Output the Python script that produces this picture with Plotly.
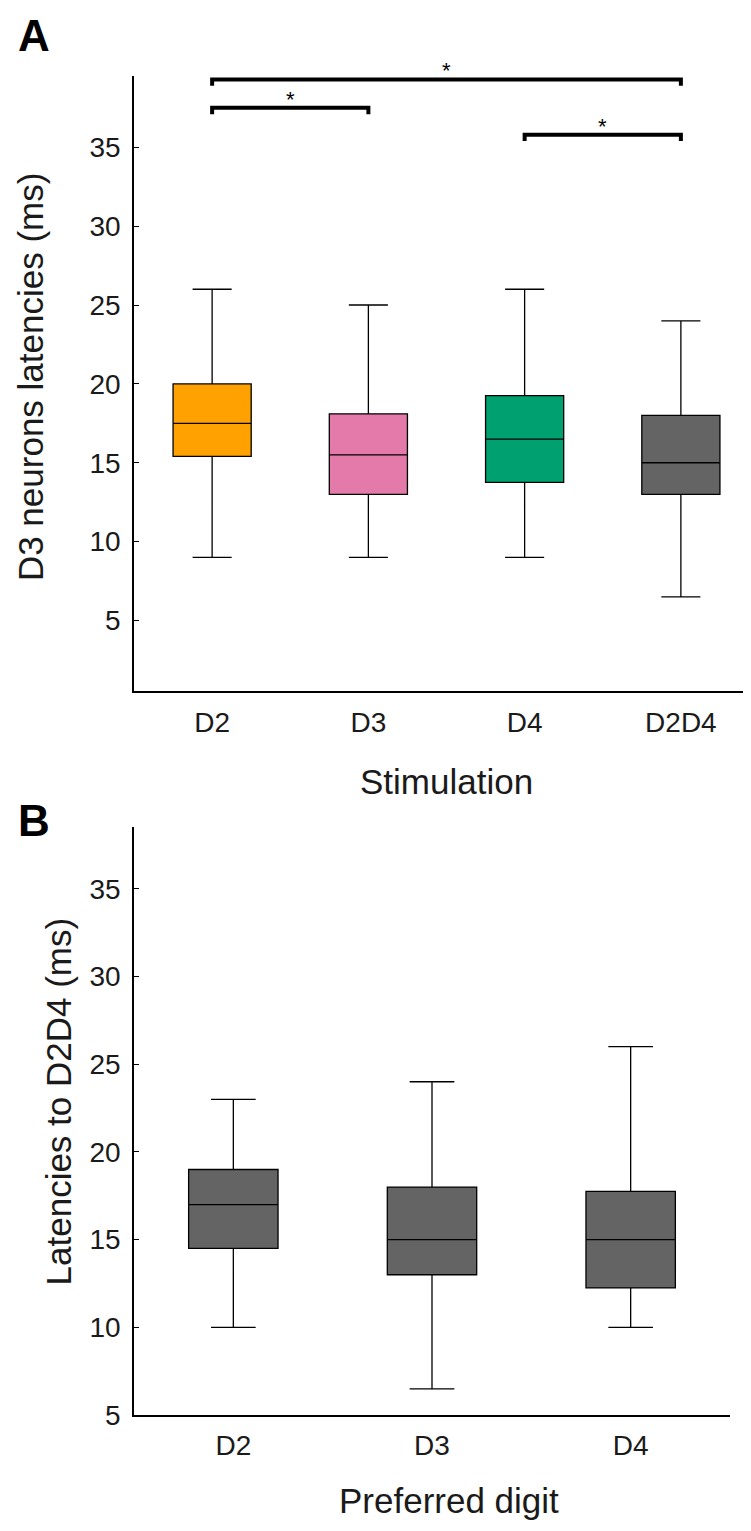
import plotly.graph_objects as go

# ---- Panel A data: D3 neuron latencies by stimulation ----
stim_labels = ["D2", "D3", "D4", "D2D4"]
stim_lower = [9, 9, 9, 6.5]
stim_q1 = [15.4, 13, 13.75, 13]
stim_median = [17.5, 15.5, 16.5, 15]
stim_q3 = [20, 18.1, 19.25, 18]
stim_upper = [26, 25, 26, 24]
stim_colors = ["#FFA101", "#E47AAA", "#00A070", "#646464"]

sig_pairs = [("D2", "D3"), ("D2", "D2D4"), ("D4", "D2D4")]
sig_heights = [37.5, 39.3, 35.8]
sig_marks = ["*", "*", "*"]

# ---- Panel B data: latencies to D2D4 by preferred digit ----
pref_labels = ["D2", "D3", "D4"]
pref_lower = [10, 6.5, 10]
pref_q1 = [14.5, 13, 12.25]
pref_median = [17, 15, 15]
pref_q3 = [19, 18, 17.75]
pref_upper = [23, 24, 26]
pref_color = "#646464"

yticks_a = [5, 10, 15, 20, 25, 30, 35]
yticks_b = [5, 10, 15, 20, 25, 30, 35]

FONT = "Liberation Sans, Arial, Helvetica, sans-serif"
W, H = 751, 1531

fig = go.Figure()

for i, lab in enumerate(stim_labels):
    fig.add_trace(go.Box(
        x=[i + 1], q1=[stim_q1[i]], median=[stim_median[i]], q3=[stim_q3[i]],
        lowerfence=[stim_lower[i]], upperfence=[stim_upper[i]],
        fillcolor=stim_colors[i], line=dict(color="black", width=1.3),
        width=0.5, whiskerwidth=0.5, boxpoints=False, name=lab,
        showlegend=False, hoverinfo="skip", xaxis="x", yaxis="y"))

pos = {lab: i + 1 for i, lab in enumerate(stim_labels)}
drop = 0.4
for (a, b), h in zip(sig_pairs, sig_heights):
    xa, xb = pos[a], pos[b]
    fig.add_trace(go.Scatter(
        x=[xa, xa, xb, xb], y=[h - drop, h, h, h - drop], mode="lines",
        line=dict(color="black", width=4), showlegend=False, hoverinfo="skip",
        cliponaxis=False, xaxis="x", yaxis="y"))

for i, lab in enumerate(pref_labels):
    fig.add_trace(go.Box(
        x=[i + 1], q1=[pref_q1[i]], median=[pref_median[i]], q3=[pref_q3[i]],
        lowerfence=[pref_lower[i]], upperfence=[pref_upper[i]],
        fillcolor=pref_color, line=dict(color="black", width=1.3),
        width=0.45, whiskerwidth=0.5, boxpoints=False, name=lab,
        showlegend=False, hoverinfo="skip", xaxis="x2", yaxis="y2"))

tickfont = dict(family=FONT, size=28, color="#1a1a1a")

def xax(domain, rng, vals, text, anchor):
    return dict(domain=domain, range=rng, tickvals=vals, ticktext=text,
                showline=True, linecolor="black", linewidth=1.5, ticks="",
                showgrid=False, zeroline=False, tickfont=tickfont,
                ticklabelstandoff=5, anchor=anchor, fixedrange=True)

def yax(domain, rng, vals, anchor):
    return dict(domain=domain, range=rng, tickvals=vals,
                showline=True, linecolor="black", linewidth=1.5,
                ticks="inside", ticklen=5, tickwidth=1, tickcolor="black",
                showgrid=False, zeroline=False, tickfont=tickfont,
                ticklabelstandoff=6, anchor=anchor, fixedrange=True)

annotations = []
for (a, b), h, m in zip(sig_pairs, sig_heights, sig_marks):
    annotations.append(dict(x=(pos[a] + pos[b]) / 2, y=h, xref="x", yref="y",
                            text=m, showarrow=False, yanchor="bottom", yshift=-6,
                            font=dict(family=FONT, size=22, color="black")))

def paper(px, py):
    return px / W, 1 - py / H

title_font = dict(family=FONT, size=35, color="#1a1a1a")
for txt, (px, py), ang in [
    ("D3 neurons latencies (ms)", (22, 373), -90),
    ("Latencies to D2D4 (ms)", (50, 1105), -90),
    ("Stimulation", (438, 782), 0),
    ("Preferred digit", (441, 1508), 0),
]:
    x, y = paper(px, py)
    annotations.append(dict(x=x, y=y, xref="paper", yref="paper", text=txt,
                            textangle=ang, showarrow=False, xanchor="center",
                            yanchor="middle", font=title_font))

for txt, (px, py) in [("A", (26, 28)), ("B", (26, 821))]:
    x, y = paper(px, py)
    annotations.append(dict(x=x, y=y, xref="paper", yref="paper",
                            text="<b>%s</b>" % txt, showarrow=False,
                            xanchor="center", yanchor="middle",
                            font=dict(family=FONT, size=44, color="black")))

left = 126 / W
fig.update_layout(
    width=W, height=H, margin=dict(l=0, r=0, t=0, b=0),
    paper_bgcolor="white", plot_bgcolor="white", boxmode="overlay",
    xaxis=xax([left, 1.0], [0.5, 4.5], list(range(1, len(stim_labels) + 1)), stim_labels, "y"),
    yaxis=yax([1 - 690.7 / H, 1 - 69 / H], [0.5, 39.5], yticks_a, "x"),
    xaxis2=xax([left, 722 / W], [0.5, 3.5], list(range(1, len(pref_labels) + 1)), pref_labels, "y2"),
    yaxis2=yax([1 - 1422 / H, 1 - 828 / H], [5, 38.5], yticks_b, "x2"),
    annotations=annotations,
)

fig.write_html("out.html")
